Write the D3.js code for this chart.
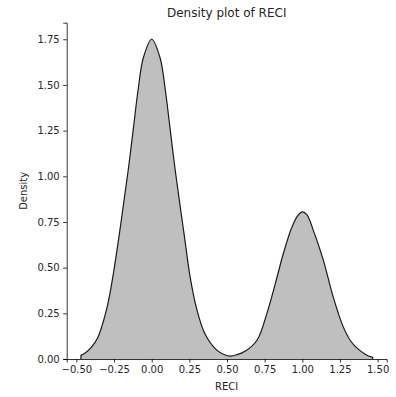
<!DOCTYPE html>
<html>
<head>
<meta charset="utf-8">
<script src="https://cdn.jsdelivr.net/npm/d3@7"></script>
<style>
  body { margin: 0; background: white; }
  svg text { font-family: "DejaVu Sans", sans-serif; fill: #262626; }
</style>
</head>
<body>
<script>
// density curve
var reci = [-0.47, -0.44, -0.40, -0.36, -0.30, -0.26, -0.22, -0.19, -0.155, -0.12, -0.09, -0.055, 0.0,
            0.055, 0.09, 0.12, 0.155, 0.19, 0.22, 0.255, 0.30, 0.355, 0.43, 0.48, 0.52, 0.56, 0.62,
            0.70, 0.765, 0.82, 0.875, 0.93, 0.97, 1.0, 1.03, 1.075, 1.14, 1.205, 1.27, 1.32, 1.36, 1.42, 1.467];
var density = [0.02, 0.034, 0.065, 0.113, 0.27, 0.44, 0.655, 0.83, 1.04, 1.275, 1.475, 1.65, 1.75,
               1.65, 1.475, 1.275, 1.04, 0.83, 0.655, 0.45, 0.27, 0.135, 0.05, 0.025, 0.016, 0.022, 0.042,
               0.104, 0.25, 0.41, 0.58, 0.72, 0.785, 0.805, 0.79, 0.70, 0.54, 0.34, 0.18, 0.10, 0.062, 0.025, 0.009];
var xTicks = [-0.50, -0.25, 0.00, 0.25, 0.50, 0.75, 1.00, 1.25, 1.50];
var yTicks = [0.00, 0.25, 0.50, 0.75, 1.00, 1.25, 1.50, 1.75];

var width = 396, height = 397;
var plot = {left: 66.7, right: 386.7, top: 22.7, bottom: 359};

var svg = d3.select("body").append("svg")
	.attr("width", width)
	.attr("height", height);

var xScale = d3.scaleLinear()
	.domain([-0.5644, 1.5604])
	.range([plot.left, plot.right]);

var yScale = d3.scaleLinear()
	.domain([0, 1.8407])
	.range([plot.bottom, plot.top]);

var pts = reci.map(function(d, i){ return [d, density[i]]; });

// fill
var area = d3.area()
	.x(function(d){ return xScale(d[0]); })
	.y0(yScale(0))
	.y1(function(d){ return yScale(d[1]); })
	.curve(d3.curveCatmullRom.alpha(0.5));

svg.append("path")
	.attr("d", area(pts))
	.attr("fill", "#bfbfbf")
	.attr("stroke", "none");

// outline, closed down to the baseline at both ends like the kde edge
var line = d3.line()
	.x(function(d){ return xScale(d[0]); })
	.y(function(d){ return yScale(d[1]); })
	.curve(d3.curveCatmullRom.alpha(0.5));

svg.append("path")
	.attr("d", "M" + xScale(reci[0]) + "," + yScale(0) + "L" + line(pts).slice(1) + "L" + xScale(reci[reci.length-1]) + "," + yScale(0))
	.attr("fill", "none")
	.attr("stroke", "#1a1a1a")
	.attr("stroke-width", 1.2);

// axes
var xAxis = d3.axisBottom(xScale)
	.tickValues(xTicks)
	.tickFormat(d3.format(".2f"))
	.tickSize(3.5)
	.tickPadding(3.5);

var yAxis = d3.axisLeft(yScale)
	.tickValues(yTicks)
	.tickFormat(d3.format(".2f"))
	.tickSize(3.5)
	.tickPadding(3.5);

var xg = svg.append("g")
	.attr("transform", "translate(0," + plot.bottom + ")")
	.call(xAxis);

var yg = svg.append("g")
	.attr("transform", "translate(" + plot.left + ",0)")
	.call(yAxis);

[xg, yg].forEach(function(g){
	g.select(".domain").attr("stroke", "black").attr("stroke-width", 0.8);
	g.selectAll(".tick line").attr("stroke", "black").attr("stroke-width", 0.8);
	g.selectAll(".tick text")
		.style("font-family", "DejaVu Sans")
		.style("font-size", "10px")
		.attr("fill", "#262626");
});
// real minus sign like matplotlib
xg.selectAll(".tick text").text(function(d){ return d3.format(".2f")(d).replace("-", "\u2212"); });

// labels
svg.append("text")
	.attr("x", (plot.left + plot.right) / 2)
	.attr("y", 16.5)
	.attr("text-anchor", "middle")
	.style("font-size", "12px")
	.text("Density plot of RECI");

svg.append("text")
	.attr("x", (plot.left + plot.right) / 2)
	.attr("y", 390)
	.attr("text-anchor", "middle")
	.style("font-size", "10px")
	.text("RECI");

svg.append("text")
	.attr("transform", "translate(27," + ((plot.top + plot.bottom) / 2) + ") rotate(-90)")
	.attr("text-anchor", "middle")
	.style("font-size", "10px")
	.text("Density");
</script>
</body>
</html>
